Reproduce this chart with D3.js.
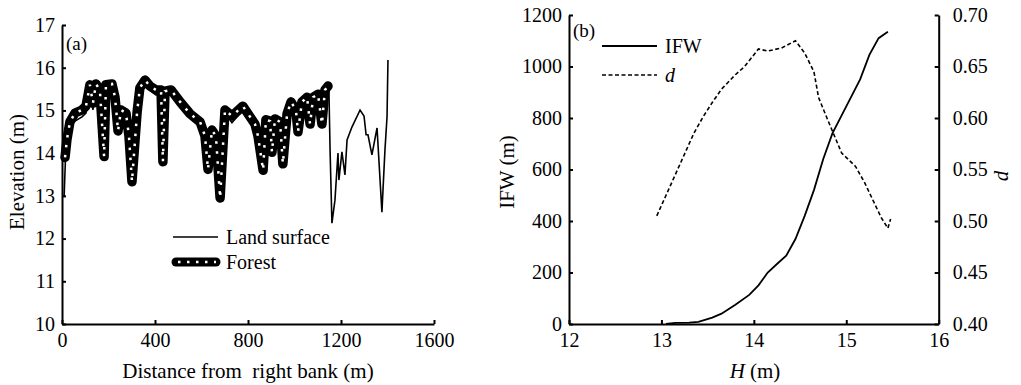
<!DOCTYPE html>
<html>
<head>
<meta charset="utf-8">
<script src="https://cdnjs.cloudflare.com/ajax/libs/d3/7.8.5/d3.min.js"></script>
<style>
  body { margin: 0; background: #fff; }
  svg { display: block; }
  text { font-family: "Liberation Serif", "Times New Roman", serif; fill: #000; }
  .axis path, .axis line { stroke: #000; stroke-width: 2px; }
</style>
</head>
<body>
<div id="chart"></div>
<script>
// panel (a) - cross section
var landDist = [9, 17, 34, 56, 86, 103, 112, 120, 133, 146, 163, 181, 189, 215, 228, 241, 254, 275, 288, 301,
  323, 335, 357, 378, 404, 426, 434, 443, 469, 508, 551, 594, 615, 628, 645, 662, 680, 701, 731, 778,
  809, 830, 843, 865, 877, 895, 903, 916, 938, 950, 968, 985, 1006, 1015, 1032, 1054, 1067, 1080, 1101, 1118,
  1131, 1148, 1153, 1161, 1174, 1187, 1191, 1204, 1217, 1226, 1247, 1282, 1299, 1308, 1316, 1333, 1355, 1376, 1389, 1398, 1402];
var landElev = [12.97, 14.19, 14.59, 14.75, 14.85, 14.94, 15.24, 15.53, 15.01, 15.57, 15.41, 13.84, 15.55, 15.57, 15.24, 14.47, 14.94, 14.82, 14.31, 13.25,
  14.89, 15.43, 15.67, 15.48, 15.36, 15.36, 13.72, 15.36, 15.43, 15.13, 14.85, 14.66, 14.31, 13.56, 14.47, 14.31, 12.86, 14.94, 14.71, 15.01,
  14.78, 14.61, 14.31, 13.54, 14.71, 14.68, 13.96, 14.73, 14.66, 13.68, 14.85, 15.13, 14.94, 14.43, 15.13, 15.24, 14.61, 15.24, 15.31, 14.61,
  15.41, 15.48, 14.07, 12.36, 12.9, 14.0, 13.37, 14.03, 13.49, 14.31, 14.61, 15.01, 14.87, 14.43, 14.43, 13.96, 14.59, 12.62, 14.07, 14.85, 16.18];

var forestDist = [13, 21, 34, 56, 86, 103, 112, 120, 133, 146, 163, 181, 189, 215, 228, 241, 254, 275, 288, 301,
  323, 335, 357, 378, 404, 426, 434, 443, 469, 508, 551, 594, 615, 628, 645, 662, 680, 701, 731, 778,
  809, 830, 843, 865, 877, 895, 903, 916, 938, 950, 968, 985, 1006, 1015, 1032, 1054, 1067, 1080, 1101, 1118, 1131, 1144];
var forestElev = [13.9, 14.31, 14.73, 14.94, 15.01, 15.1, 15.36, 15.6, 15.17, 15.62, 15.48, 13.92, 15.6, 15.62, 15.31, 14.52, 15.01, 14.94, 14.4, 13.33,
  14.96, 15.53, 15.71, 15.57, 15.48, 15.48, 13.8, 15.45, 15.48, 15.2, 14.92, 14.73, 14.4, 13.62, 14.54, 14.4, 12.95, 15.01, 14.87, 15.1,
  14.85, 14.68, 14.4, 13.6, 14.78, 14.75, 14.02, 14.8, 14.73, 13.75, 14.92, 15.2, 15.01, 14.5, 15.2, 15.31, 14.68, 15.31, 15.38, 14.68, 15.48, 15.57];

var distTicks = [0, 400, 800, 1200, 1600];
var elevTicks = [10, 11, 12, 13, 14, 15, 16, 17];

// panel (b)
var ifwH = [13.05, 13.15, 13.3, 13.4, 13.55, 13.65, 13.8, 13.95, 14.05, 14.15, 14.25, 14.35, 14.45, 14.55, 14.65, 14.75, 14.85, 14.95, 15.05, 15.15, 15.25, 15.35, 15.45];
var ifwVal = [0, 4, 5, 8, 25, 40, 75, 113, 150, 200, 233, 265, 330, 420, 520, 640, 740, 810, 880, 950, 1045, 1110, 1135];
var dH = [12.95, 13.05, 13.15, 13.25, 13.35, 13.45, 13.55, 13.65, 13.8, 13.9, 14.05, 14.15, 14.3, 14.45, 14.55, 14.65, 14.7, 14.8, 14.95, 15.1, 15.2, 15.3, 15.38, 15.45, 15.48];
var dVal = [0.505, 0.525, 0.545, 0.565, 0.585, 0.601, 0.615, 0.628, 0.642, 0.650, 0.667, 0.665, 0.668, 0.675, 0.663, 0.645, 0.620, 0.598, 0.566, 0.553, 0.537, 0.518, 0.503, 0.493, 0.502];

var hTicks = [12, 13, 14, 15, 16];
var ifwTicks = [0, 200, 400, 600, 800, 1000, 1200];
var dTicks = [0.40, 0.45, 0.50, 0.55, 0.60, 0.65, 0.70];

var w = 1021, h = 385;
var serif = "'Liberation Serif', 'Times New Roman', serif";
var svg = d3.select("#chart").append("svg").attr("width", w).attr("height", h);

function styleAxis(g) {
  g.attr("font-family", serif).attr("font-size", 20);
  g.selectAll("text").attr("fill", "#000");
}

// ---------- panel (a)
var xA = d3.scaleLinear().domain([0, 1600]).range([62, 434]);
var yA = d3.scaleLinear().domain([10, 17]).range([324, 25]);

svg.append("g").attr("class", "axis")
   .attr("transform", "translate(0,324)")
   .call(d3.axisBottom(xA).tickValues(distTicks).tickFormat(d3.format("d")).tickSizeInner(-4).tickSizeOuter(0).tickPadding(9))
   .call(styleAxis);
svg.append("g").attr("class", "axis")
   .attr("transform", "translate(62,0)")
   .call(d3.axisLeft(yA).tickValues(elevTicks).tickFormat(d3.format("d")).tickSizeInner(-4).tickSizeOuter(0).tickPadding(7))
   .call(styleAxis);

var lineA = d3.line().x(function(d) { return xA(d[0]); }).y(function(d) { return yA(d[1]); });

svg.append("path")
   .datum(d3.zip(landDist, landElev))
   .attr("d", lineA)
   .attr("fill", "none").attr("stroke", "#000").attr("stroke-width", 1.6);

var forestPts = d3.zip(forestDist, forestElev);
svg.append("path").datum(forestPts).attr("d", lineA)
   .attr("fill", "none").attr("stroke", "#000").attr("stroke-width", 9.5)
   .attr("stroke-linejoin", "round").attr("stroke-linecap", "round");
svg.append("path").datum(forestPts).attr("d", lineA)
   .attr("fill", "none").attr("stroke", "#fff").attr("stroke-width", 2.5)
   .attr("stroke-dasharray", "2.5 7.5");

svg.append("text").attr("x", 66).attr("y", 50).attr("font-size", 19).text("(a)");

// legend (a)
svg.append("line").attr("x1", 173).attr("x2", 218).attr("y1", 237).attr("y2", 237)
   .attr("stroke", "#000").attr("stroke-width", 1.6);
svg.append("text").attr("x", 226).attr("y", 244).attr("font-size", 20).text("Land surface");
svg.append("line").attr("x1", 176).attr("x2", 216).attr("y1", 262).attr("y2", 262)
   .attr("stroke", "#000").attr("stroke-width", 9).attr("stroke-linecap", "round");
svg.append("line").attr("x1", 178).attr("x2", 216).attr("y1", 262).attr("y2", 262)
   .attr("stroke", "#fff").attr("stroke-width", 2.5).attr("stroke-dasharray", "2.5 6.5");
svg.append("text").attr("x", 226).attr("y", 269).attr("font-size", 20).text("Forest");

svg.append("text").attr("x", 248).attr("y", 378).attr("text-anchor", "middle")
   .attr("font-size", 21).attr("xml:space", "preserve").text("Distance from  right bank (m)");
svg.append("text").attr("transform", "translate(24,172) rotate(-90)")
   .attr("text-anchor", "middle").attr("font-size", 21).text("Elevation (m)");

// ---------- panel (b)
var xB = d3.scaleLinear().domain([12, 16]).range([569, 938.7]);
var yB = d3.scaleLinear().domain([0, 1200]).range([324, 15]);
var yD = d3.scaleLinear().domain([0.40, 0.70]).range([324, 15]);

svg.append("g").attr("class", "axis")
   .attr("transform", "translate(0,324)")
   .call(d3.axisBottom(xB).tickValues(hTicks).tickFormat(d3.format("d")).tickSizeInner(-4).tickSizeOuter(0).tickPadding(9))
   .call(styleAxis);
svg.append("g").attr("class", "axis")
   .attr("transform", "translate(569,0)")
   .call(d3.axisLeft(yB).tickValues(ifwTicks).tickFormat(d3.format("d")).tickSizeInner(-4).tickSizeOuter(0).tickPadding(7))
   .call(styleAxis);
svg.append("g").attr("class", "axis")
   .attr("transform", "translate(938.7,0)")
   .call(d3.axisRight(yD).tickValues(dTicks).tickFormat(d3.format(".2f")).tickSizeInner(-4).tickSizeOuter(0).tickPadding(14))
   .call(styleAxis);

svg.append("path")
   .datum(d3.zip(ifwH, ifwVal))
   .attr("d", d3.line().x(function(d) { return xB(d[0]); }).y(function(d) { return yB(d[1]); }))
   .attr("fill", "none").attr("stroke", "#000").attr("stroke-width", 1.8);
svg.append("path")
   .datum(d3.zip(dH, dVal))
   .attr("d", d3.line().x(function(d) { return xB(d[0]); }).y(function(d) { return yD(d[1]); }))
   .attr("fill", "none").attr("stroke", "#000").attr("stroke-width", 1.6)
   .attr("stroke-dasharray", "4 2.5");

svg.append("text").attr("x", 573).attr("y", 37).attr("font-size", 19).text("(b)");

svg.append("line").attr("x1", 602).attr("x2", 657).attr("y1", 46).attr("y2", 46)
   .attr("stroke", "#000").attr("stroke-width", 1.8);
svg.append("text").attr("x", 665).attr("y", 53).attr("font-size", 20).text("IFW");
svg.append("line").attr("x1", 602).attr("x2", 657).attr("y1", 75).attr("y2", 75)
   .attr("stroke", "#000").attr("stroke-width", 1.6).attr("stroke-dasharray", "4 2.5");
svg.append("text").attr("x", 665).attr("y", 82).attr("font-size", 20).attr("font-style", "italic").text("d");

var hTitle = svg.append("text").attr("x", 755).attr("y", 378).attr("text-anchor", "middle").attr("font-size", 21);
hTitle.append("tspan").attr("font-style", "italic").text("H");
hTitle.append("tspan").text(" (m)");

svg.append("text").attr("transform", "translate(514,172) rotate(-90)")
   .attr("text-anchor", "middle").attr("font-size", 21).text("IFW (m)");
svg.append("text").attr("transform", "translate(1008,176) rotate(-90)")
   .attr("text-anchor", "middle").attr("font-size", 21).attr("font-style", "italic").text("d");
</script>
</body>
</html>
